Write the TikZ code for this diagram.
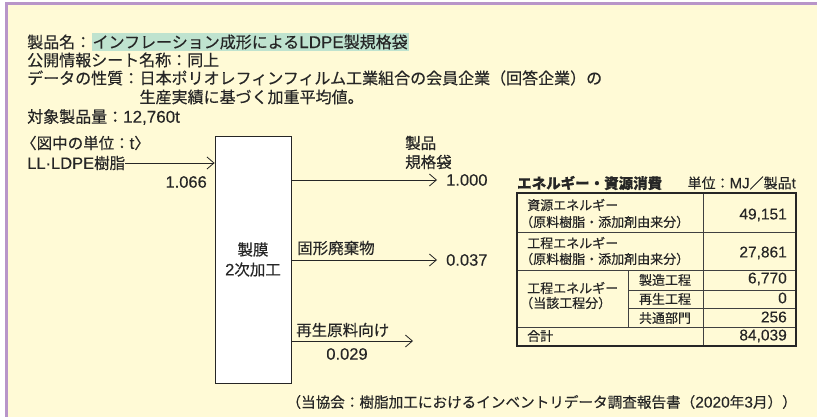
\documentclass[tikz,border=0pt]{standalone}
\usepackage{fontspec}
\setmainfont{Noto Sans CJK JP}[FakeBold=0.35]
\newfontfamily\latfont{Liberation Sans}[FakeBold=0.2]
\newcommand\latn[1]{{\latfont\fontsize{\dimexpr\latsize\relax}{10}\selectfont #1}}
\def\latsize{16pt}
\usetikzlibrary{arrows.meta,positioning}
\definecolor{bg}{HTML}{FFFAD6}
\definecolor{framec}{HTML}{B895C9}
\definecolor{hl}{HTML}{BFE3CF}
\definecolor{ink}{HTML}{262626}
\begin{document}
\begin{tikzpicture}[x=1pt,y=-1pt,
 every node/.style={text=ink, inner sep=0pt},
 head/.style={anchor=west,font=\fontsize{16}{18}\selectfont\def\latsize{17pt}},
 lab/.style={anchor=west,font=\fontsize{15.5}{18}\selectfont\def\latsize{16.5pt}},
 arr/.style={draw=black!85, line width=0.8pt, -{Straight Barb[length=7pt,width=12pt]}},
 tab/.style={font=\fontsize{13}{15}\selectfont\def\latsize{15.5pt}},
 tline/.style={draw=black!75, line width=0.7pt},
]
\useasboundingbox (0,0) rectangle (817,417);
\fill[white] (0,0) rectangle (817,417);
\fill[bg] (5,2) rectangle (817,417);
\draw[framec, line width=3pt] (6.5,417) -- (6.5,3.5) -- (817,3.5);
% heading
\node[head] (nm) at (27,42) {製品名：};
\node[head, fill=hl, inner xsep=1pt, inner ysep=2pt, anchor=west] (pn) at (nm.east) {インフレーション成形による\latn{LDPE}製規格袋};
\node[head] (sheet) at (27,60) {公開情報シート名称：同上};
\node[head] (dq) at (27,78) {データの性質：};
\node[head] (d1) at (dq.east) {日本ポリオレフィンフィルム工業組合の会員企業（回答企業）の};
\coordinate (l4) at (0,97);
\node[head] (d2) at (dq.east |- l4) {生産実績に基づく加重平均値。};
\node[head] (qty) at (27,117) {対象製品量：\latn{12,760t}};
% diagram
\node[lab] (unit) at (21,143) {〈図中の単位：\latn{t}〉};
\node[lab] (ll) at (27,163) {\latn{LL·LDPE}樹脂};
\node[draw=black!85, line width=0.8pt, fill=white, minimum width=76pt, minimum height=247pt, align=center, font=\fontsize{15.5}{20}\selectfont\def\latsize{16.5pt}] (proc) at (253,259.5) {製膜\\\latn{2}次加工};
\draw[arr] (ll.east) -- (ll.east -| proc.west);
\node[lab, anchor=east] (v0) at (207,182) {\latn{1.066}};
\coordinate (o1) at (437,180);
\coordinate (o2) at (437,260);
\coordinate (o3) at (413,341);
\draw[arr] (proc.east |- o1) -- (o1);
\draw[arr] (proc.east |- o2) -- (o2);
\draw[arr] (proc.east |- o3) -- (o3);
\node[lab] (v1) at (446,180) {\latn{1.000}};
\node[lab] (p1) at (405,143) {製品};
\node[lab] (p2) at (405,162) {規格袋};
\node[lab] (v2) at (446,260) {\latn{0.037}};
\node[lab] (w) at (297,248) {固形廃棄物};
\node[lab] (r) at (296,330) {再生原料向け};
\node[lab, anchor=center] (v3) at (347,354) {\latn{0.029}};
% table
\node[anchor=west, font=\bfseries\fontsize{14.5}{16}\selectfont] (tt) at (517,183) {エネルギー・資源消費};
\node[anchor=east, font=\fontsize{14}{16}\selectfont\def\latsize{15pt}] (tu) at (796,183) {単位：\latn{MJ}／製品\latn{t}};
\draw[tline] (517,232) -- (796,232);
\draw[tline] (517,270) -- (796,270);
\draw[tline] (517,327) -- (796,327);
\draw[tline] (628,290) -- (796,290);
\draw[tline] (628,308) -- (796,308);
\draw[tline] (703,193) -- (703,346);
\draw[tline] (628,270) -- (628,327);
\draw[draw=black!85, line width=1.6pt] (517,193) rectangle (796,346);
\node[tab,anchor=west] at (527,205) {資源エネルギー};
\node[tab,anchor=west] at (520,222) {（原料樹脂・添加剤由来分）};
\node[tab,anchor=east] at (787,215) {\latn{49,151}};
\node[tab,anchor=west] at (527,243) {工程エネルギー};
\node[tab,anchor=west] at (520,259) {（原料樹脂・添加剤由来分）};
\node[tab,anchor=east] at (787,253) {\latn{27,861}};
\node[tab,anchor=west] at (527,288) {工程エネルギー};
\node[tab,anchor=west] at (520,303) {（当該工程分）};
\node[tab] at (665,280) {製造工程};
\node[tab] at (665,299) {再生工程};
\node[tab] at (665,318) {共通部門};
\node[tab,anchor=east] at (787,279) {\latn{6,770}};
\node[tab,anchor=east] at (787,298) {\latn{0}};
\node[tab,anchor=east] at (787,317) {\latn{256}};
\node[tab,anchor=west] at (527,336) {合計};
\node[tab,anchor=east] at (787,336) {\latn{84,039}};
% footnote
\node[anchor=east, font=\fontsize{14.6}{16}\selectfont\def\latsize{15.5pt}] (fn) at (797,402) {（当協会：樹脂加工におけるインベントリデータ調査報告書（\latn{2020}年\latn{3}月））};
\end{tikzpicture}
\end{document}
